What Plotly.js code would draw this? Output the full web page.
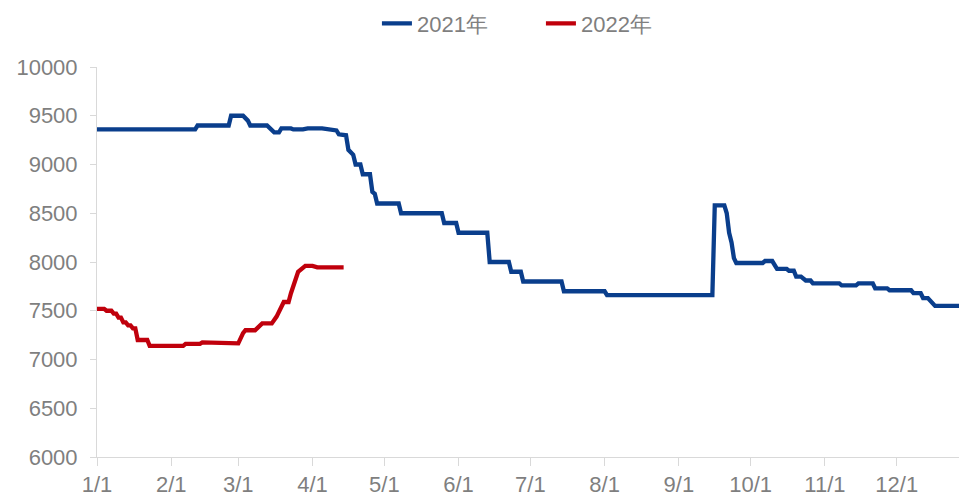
<!DOCTYPE html>
<html>
<head>
<meta charset="utf-8">
<script src="https://cdn.plot.ly/plotly-3.0.1.min.js"></script>
<style>
html,body{margin:0;padding:0;background:#fff;}
#chart{width:959px;height:496px;}
</style>
</head>
<body>
<div id="chart"></div>
<script>
// 2021 series (month-day, price)
const dates2021 = ["01-01","02-11","02-12","02-25","02-26","03-03","03-05","03-06","03-13","03-16","03-18","03-19","03-23","03-24","03-28","03-30","04-05","04-07","04-11","04-12","04-15","04-16","04-18","04-19","04-21","04-22","04-25","04-26","04-27","04-28","05-07","05-08","05-25","05-26","05-31","06-01","06-13","06-14","06-22","06-23","06-27","06-28","07-14","07-15","08-01","08-02","09-15","09-16","09-20","09-21","09-22","09-23","09-24","09-25","10-06","10-07","10-10","10-12","10-16","10-17","10-19","10-20","10-22","10-24","10-26","10-27","11-07","11-08","11-14","11-15","11-21","11-22","11-27","11-28","12-07","12-08","12-11","12-12","12-14","12-17","12-31"];
const values2021 = [9360,9360,9400,9400,9500,9500,9450,9400,9400,9330,9330,9370,9370,9360,9360,9370,9370,9360,9350,9310,9300,9150,9100,9000,9000,8900,8900,8720,8700,8600,8600,8500,8500,8400,8400,8300,8300,8000,8000,7900,7900,7800,7800,7700,7700,7660,7660,8580,8580,8500,8300,8200,8040,7990,7990,8010,8010,7930,7930,7910,7910,7850,7850,7810,7810,7780,7780,7760,7760,7780,7780,7730,7730,7710,7710,7680,7680,7630,7630,7550,7550];

// 2022 series (month-day, price)
const dates2022 = ["01-01","01-04","01-05","01-07","01-08","01-09","01-10","01-11","01-12","01-13","01-14","01-15","01-16","01-17","01-18","01-22","01-23","02-06","02-07","02-13","02-14","02-20","02-21","03-01","03-03","03-04","03-08","03-10","03-11","03-15","03-17","03-20","03-22","03-23","03-26","03-29","04-01","04-03","04-14"];
const values2022 = [7520,7520,7500,7500,7470,7470,7430,7430,7380,7380,7350,7350,7320,7320,7200,7200,7140,7140,7160,7160,7175,7175,7165,7165,7270,7300,7300,7340,7370,7370,7440,7590,7590,7680,7900,7960,7960,7945,7945];

const seriesNames = ["2021年","2022年"];
const tickDates = ["01-01","02-01","03-01","04-01","05-01","06-01","07-01","08-01","09-01","10-01","11-01","12-01"];
const tickLabels = ["1/1","2/1","3/1","4/1","5/1","6/1","7/1","8/1","9/1","10/1","11/1","12/1"];

const toAxisDate = d => "2021-" + d;

const traces = [
  {
    x: dates2021.map(toAxisDate), y: values2021, name: seriesNames[0],
    type: "scatter", mode: "lines",
    line: {color: "#0a3e8c", width: 4.3}
  },
  {
    x: dates2022.map(toAxisDate), y: values2022, name: seriesNames[1],
    type: "scatter", mode: "lines",
    line: {color: "#c0000c", width: 4.3}
  }
];

const layout = {
  width: 959, height: 496,
  margin: {l: 97, r: 0, t: 67, b: 39},
  paper_bgcolor: "#ffffff", plot_bgcolor: "#ffffff",
  font: {family: "Liberation Sans, Arial, sans-serif", size: 22, color: "#7f7f7f"},
  showlegend: true,
  legend: {
    orientation: "h", x: 0.515, xanchor: "center", y: 1.165, yanchor: "top",
    font: {size: 22, color: "#7f7f7f"},
    entrywidth: 119, entrywidthmode: "pixels",
    bgcolor: "rgba(0,0,0,0)"
  },
  xaxis: {
    type: "date",
    range: ["2021-01-01", "2021-12-27"],
    tickmode: "array",
    tickvals: tickDates.map(toAxisDate),
    ticktext: tickLabels,
    showgrid: false, zeroline: false,
    showline: true, linecolor: "#d9d9d9", linewidth: 1,
    ticks: "outside", ticklen: 8, tickcolor: "#d9d9d9",
    tickfont: {size: 22, color: "#7f7f7f"}
  },
  yaxis: {
    range: [6000, 10000], dtick: 500, tick0: 6000,
    tickformat: "d",
    showgrid: false, zeroline: false,
    showline: true, linecolor: "#d9d9d9", linewidth: 1,
    ticks: "outside", ticklen: 6, tickcolor: "#d9d9d9",
    ticklabelstandoff: 8,
    tickfont: {size: 22, color: "#7f7f7f"}
  }
};

Plotly.newPlot("chart", traces, layout, {displayModeBar: false, staticPlot: true});
</script>
</body>
</html>
